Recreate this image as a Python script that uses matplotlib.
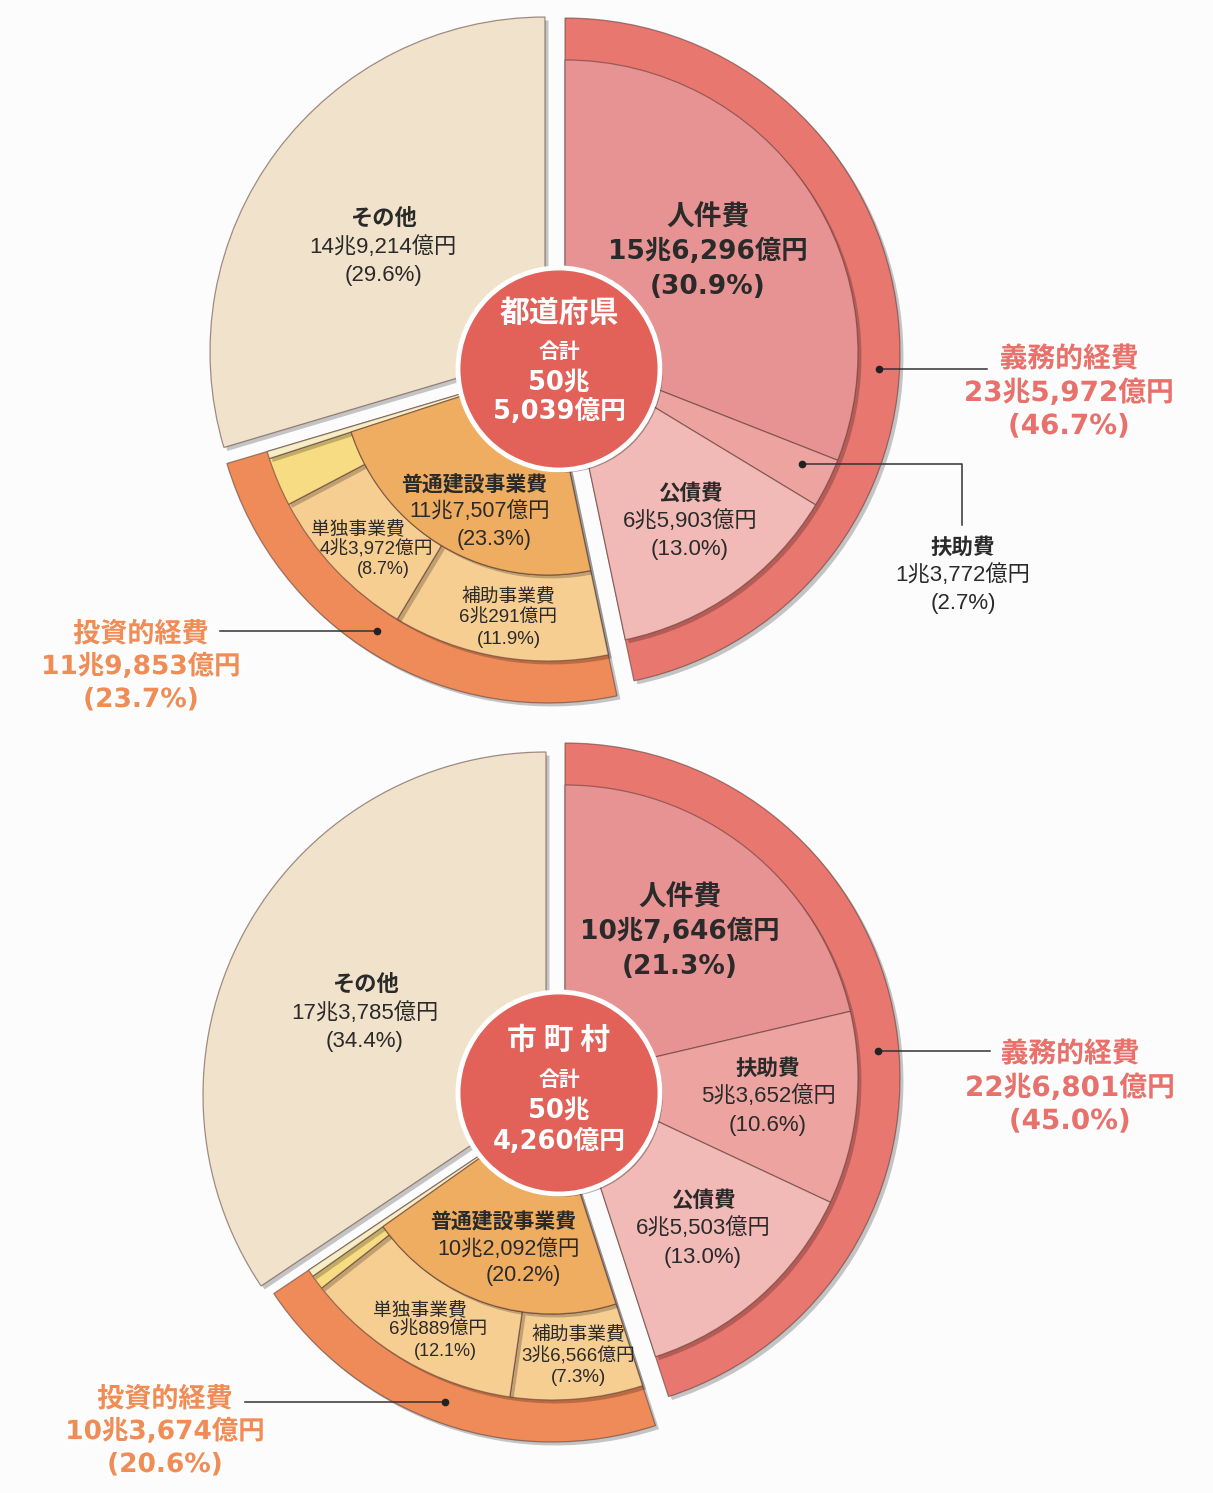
import matplotlib
matplotlib.use('Agg')
import matplotlib.pyplot as plt
from matplotlib.patches import Wedge, Circle
import matplotlib.patheffects as pe
import numpy as np

plt.rcParams['font.family'] = ['Noto Sans CJK JP', 'DejaVu Sans']

# ---------------- data ----------------
# 都道府県
pref_title = '都道府県'
pref_total = ['合計', '50兆', '5,039億円']
pref_gimu_names = ['人件費', '扶助費', '公債費']
pref_gimu_pct = [30.9, 2.7, 13.0]
pref_gimu_amt = ['15兆6,296億円', '1兆3,772億円', '6兆5,903億円']
pref_gimu_total = [46.7, '23兆5,972億円']
pref_futsu = [23.3, '11兆7,507億円']
pref_hojo = [11.9, '6兆291億円']
pref_tandoku = [8.7, '4兆3,972億円']
pref_toushi_total = [23.7, '11兆9,853億円']
pref_other = [29.6, '14兆9,214億円']

# 市町村
city_title = '市 町 村'
city_total = ['合計', '50兆', '4,260億円']
city_gimu_names = ['人件費', '扶助費', '公債費']
city_gimu_pct = [21.3, 10.6, 13.0]
city_gimu_amt = ['10兆7,646億円', '5兆3,652億円', '6兆5,503億円']
city_gimu_total = [45.0, '22兆6,801億円']
city_futsu = [20.2, '10兆2,092億円']
city_hojo = [7.3, '3兆6,566億円']
city_tandoku = [12.1, '6兆889億円']
city_toushi_total = [20.6, '10兆3,674億円']
city_other = [34.4, '17兆3,785億円']

# ---------------- style ----------------
C_JINKEN = '#E89393'
C_FUJO = '#EDA3A0'
C_KOSAI = '#F2BAB7'
C_GIMU_RING = '#E8776F'
C_CENTER = '#E2625A'
C_OTHER = '#F1E3CB'
C_FUTSU = '#EEAD60'
C_SUB = '#F6CE92'
C_YELLOW = '#F7DC84'
C_CREAM = '#F6EDC4'
C_TOUSHI_RING = '#EE8B58'
C_TXT = '#2a2a2a'
C_GIMU_TXT = '#E8716B'
C_TOUSHI_TXT = '#F08C55'
BG = '#FCFCFD'
HEAVY = ['DejaVu Sans', 'Noto Sans CJK JP']
PLAIN = ['Liberation Sans', 'Noto Sans CJK JP']
JP = ['Noto Sans CJK JP', 'DejaVu Sans']

W, H = 1213, 1493
fig = plt.figure(figsize=(W / 100, H / 100), dpi=100, facecolor=BG)
ax = fig.add_axes([0, 0, 1, 1])
ax.set_xlim(0, W)
ax.set_ylim(H, 0)
ax.set_aspect('equal')
ax.axis('off')
ax.set_facecolor(BG)

R3, R2, R1 = 335, 293, 207
shadow = [pe.withSimplePatchShadow(offset=(2.5, -2.5), shadow_rgbFace='k', alpha=0.22)]
EDGE = (0.35, 0.22, 0.2, 0.55)


def theta(phi):
    # clockwise-from-top angle (deg) -> matplotlib data angle with inverted y
    return phi - 90.0


def polar(c, r, phi):
    a = np.deg2rad(phi)
    return c[0] + r * np.sin(a), c[1] - r * np.cos(a)


def wedge(c, r, p1, p2, color, width=None, z=2, shade=True):
    w = Wedge(c, r, theta(p1), theta(p2), width=width, facecolor=color,
              edgecolor=EDGE, linewidth=0.9, zorder=z)
    if shade:
        w.set_path_effects(shadow)
    ax.add_patch(w)
    return w


def txt(x, y, s, size, bold=False, color=C_TXT, z=10, glow=False, family=JP):
    t = ax.text(x, y, s, fontsize=size, fontweight='bold' if bold else 'normal',
                color=color, ha='center', va='center', zorder=z, family=family)
    if glow:
        t.set_path_effects([pe.withStroke(linewidth=3, foreground='white', alpha=0.8)])
    return t


def draw_chart(cx, cy, ccen, title, total, gnames, gpct, gamt, gtotal,
               futsu, hojo, tandoku, toushi, other, L):
    deg = 3.6
    # ---- 義務的経費 group
    g0, g1 = 0.0, gtotal[0] * deg
    cg = (cx + L['off_gimu'][0], cy + L['off_gimu'][1])
    wedge(cg, R3, g0, g1, C_GIMU_RING, z=2)
    cols = [C_JINKEN, C_FUJO, C_KOSAI]
    scale = (g1 - g0) / sum(gpct)
    p = g0
    for v, col in zip(gpct, cols):
        q = p + v * scale
        wedge(cg, R2, p, q, col, z=3)
        p = q
    # ---- 投資的経費 group
    t0, t1 = g1, g1 + toushi[0] * deg
    ct = (cx + L['off_toushi'][0], cy + L['off_toushi'][1])
    wedge(ct, R3, t0, t1, C_TOUSHI_RING, z=2)
    fend = t0 + futsu[0] * deg
    # annulus: 補助, 単独, その他(普通建設)
    p = t0
    for v, col in [(hojo[0], C_SUB), (tandoku[0], C_SUB)]:
        q = p + v * deg
        wedge(ct, R2, p, q, col, width=R2 - R1, z=3)
        p = q
    wedge(ct, R2, p, fend, C_YELLOW, width=R2 - R1, z=3)
    wedge(ct, R1, t0, fend, C_FUTSU, z=4)
    wedge(ct, R2, fend, t1, C_CREAM, z=3)
    # ---- その他
    o0, o1 = t1, t1 + other[0] * deg
    co = (cx + L['off_other'][0], cy + L['off_other'][1])
    wedge(co, L['r_other'], o0, min(o1, 360.0), C_OTHER, z=2)

    # ---- center circle
    circ = Circle(ccen, 101, facecolor=C_CENTER, edgecolor='white', linewidth=3.5, zorder=8)
    circ.set_path_effects([pe.withSimplePatchShadow(offset=(2, -2), shadow_rgbFace='k', alpha=0.3)])
    ax.add_patch(circ)
    x0 = ccen[0]
    txt(x0, L['c'][0], title, 21.5, bold=True, color='white', z=12)
    txt(x0, L['c'][1], total[0], 15, bold=True, color='white', z=12)
    txt(x0, L['c'][2], total[1], 18.5, bold=True, color='white', z=12, family=HEAVY)
    txt(x0, L['c'][3], total[2], 18.5, bold=True, color='white', z=12, family=HEAVY)

    # ---- slice labels
    (x, y) = L['jinken']
    txt(x, y, gnames[0], 20, bold=True)
    txt(x, y + 34, gamt[0], 19, bold=True, family=HEAVY)
    txt(x, y + 69, f'({gpct[0]:.1f}%)', 19, bold=True, family=HEAVY)
    for key, i in [('fujo', 1), ('kosai', 2)]:
        (x, y) = L[key]
        txt(x, y, gnames[i], 15.5, bold=True)
        txt(x, y + 28, gamt[i], 16, family=PLAIN)
        txt(x, y + 57, f'({gpct[i]:.1f}%)', 16, family=PLAIN)
    (x, y) = L['other']
    txt(x, y, 'その他', 16, bold=True)
    txt(x, y + 29, other[1], 16, family=PLAIN)
    txt(x, y + 58, f'({other[0]:.1f}%)', 16, family=PLAIN)
    (x, y) = L['futsu']
    txt(x, y, '普通建設事業費', 15, bold=True)
    txt(x + 6, y + 27, futsu[1], 15.5, family=PLAIN)
    txt(x + 20, y + 54, f'({futsu[0]:.1f}%)', 15.5, family=PLAIN)
    (x, y) = L['tandoku']
    txt(x, y, '単独事業費', 13.5)
    txt(x + 18, y + 19, tandoku[1], 13.5, family=PLAIN)
    txt(x + 25, y + 40, f'({tandoku[0]:.1f}%)', 13, family=PLAIN)
    (x, y) = L['hojo']
    txt(x, y, '補助事業費', 13.5)
    txt(x, y + 21, hojo[1], 13.5, family=PLAIN)
    txt(x + 1, y + 42, f'({hojo[0]:.1f}%)', 13.5, family=PLAIN)

    # ---- outer labels with leaders
    dot = polar(cg, (R2 + R3) / 2, L['gimu_phi'])
    ax.plot([dot[0], L['gimu_line_x']], [dot[1], dot[1]], color='#333333', lw=1.1, zorder=9)
    ax.plot(*dot, 'o', ms=4.5, color='#222222', zorder=9)
    (x, y) = L['gimu']
    txt(x, y, '義務的経費', 20, bold=True, color=C_GIMU_TXT, glow=True)
    txt(x, y + 34, gtotal[1], 20, bold=True, color=C_GIMU_TXT, glow=True, family=HEAVY)
    txt(x, y + 67, f'({gtotal[0]:.1f}%)', 20, bold=True, color=C_GIMU_TXT, glow=True, family=HEAVY)

    dot = polar(ct, (R2 + R3) / 2, L['toushi_phi'])
    ax.plot([dot[0], L['toushi_line_x']], [dot[1], dot[1]], color='#333333', lw=1.1, zorder=9)
    ax.plot(*dot, 'o', ms=4.5, color='#222222', zorder=9)
    (x, y) = L['toushi']
    txt(x, y, '投資的経費', 19.5, bold=True, color=C_TOUSHI_TXT, glow=True)
    txt(x, y + 33, toushi[1], 19, bold=True, color=C_TOUSHI_TXT, glow=True, family=HEAVY)
    txt(x, y + 66, f'({toushi[0]:.1f}%)', 19, bold=True, color=C_TOUSHI_TXT, glow=True, family=HEAVY)

    if 'fujo_out' in L:
        # 扶助費 is labelled outside with an elbow leader
        dot = polar(cg, L['fujo_r'], L['fujo_phi'])
        ex, ey = L['fujo_elbow']
        ax.plot([dot[0], ex, ex], [dot[1], dot[1], ey], color='#333333', lw=1.1, zorder=9)
        ax.plot(*dot, 'o', ms=4.5, color='#222222', zorder=9)


top_layout = {
    'off_gimu': (11, -5), 'off_toushi': (-6, 10), 'off_other': (-9, -6), 'r_other': 335,
    'c': [313, 352, 382, 412],
    'jinken': (708, 218),
    'fujo': (963, 547),
    'kosai': (690, 493),
    'other': (383, 218),
    'futsu': (474, 485),
    'tandoku': (358, 530),
    'hojo': (508, 597),
    'gimu': (1069, 359), 'gimu_phi': 93.0, 'gimu_line_x': 987,
    'toushi': (141, 634), 'toushi_phi': 213.0, 'toushi_line_x': 220,
    'fujo_out': True, 'fujo_r': 262, 'fujo_phi': 115.0, 'fujo_elbow': (962, 525),
}
bottom_layout = {
    'off_gimu': (11, -13), 'off_toushi': (-2, 16), 'off_other': (-8, 4), 'r_other': 343,
    'c': [1040, 1080, 1110, 1142],
    'jinken': (680, 898),
    'fujo': (768, 1068),
    'kosai': (703, 1200),
    'other': (365, 984),
    'futsu': (503, 1222),
    'tandoku': (420, 1311),
    'hojo': (578, 1335),
    'gimu': (1070, 1054), 'gimu_phi': 85.0, 'gimu_line_x': 990,
    'toushi': (165, 1399), 'toushi_phi': 200.0, 'toushi_line_x': 245,
}

draw_chart(554, 358, (559, 369), pref_title, pref_total, pref_gimu_names, pref_gimu_pct,
           pref_gimu_amt, pref_gimu_total, pref_futsu, pref_hojo, pref_tandoku,
           pref_toushi_total, pref_other, top_layout)
draw_chart(554, 1091, (559, 1093), city_title, city_total, city_gimu_names, city_gimu_pct,
           city_gimu_amt, city_gimu_total, city_futsu, city_hojo, city_tandoku,
           city_toushi_total, city_other, bottom_layout)

fig.savefig('out.png', dpi=100, facecolor=BG)
